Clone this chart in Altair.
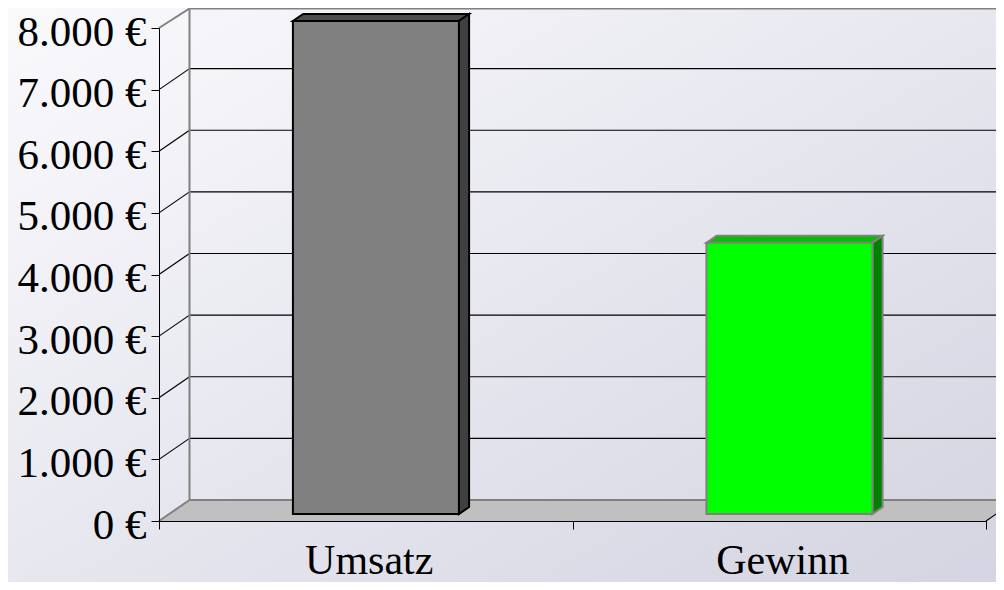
import altair as alt
import pandas as pd

categories = ["Umsatz", "Gewinn"]
values = [8000, 4400]
y_ticks = [0, 1000, 2000, 3000, 4000, 5000, 6000, 7000, 8000]
front_fill = ["#808080", "#00ff00"]
top_fill = ["#4d4d4d", "#00c000"]
side_fill = ["#404040", "#008000"]
edge = ["#000000", "#808080"]

W, H = 827, 493
UX = 2 / W          # data units per pixel, x
UY = 8000 / H       # data units per pixel, y
DX, DY = 30.5 * UX, 21 * UY   # full floor depth
BW = 166 * UX
TOP = 8000 + 19.5 * UY        # frame top sits just inside the page

bars, tops, sides = [], [], []
for i, (c, v) in enumerate(zip(categories, values)):
    x0 = i + 0.5 + DX / 3 - BW / 2
    x1 = x0 + BW
    b = DY / 3
    t = v + DY / 3
    bars.append(dict(cat=c, x=x0, x2=x1, y=t, y2=b, f=front_fill[i], s=edge[i]))
    d, e = DX / 3, DY / 3
    for xx, up, lo in [(x0, t, t), (x0 + d, t + e, t), (x1, t + e, t), (x1 + d, t + e, t + e)]:
        tops.append(dict(cat=c, x=xx, y=up, y2=lo, f=top_fill[i], s=edge[i]))
    for xx, up, lo in [(x1, t, b), (x1 + d, t + e, b + e)]:
        sides.append(dict(cat=c, x=xx, y=up, y2=lo, f=side_fill[i], s=edge[i]))

segs = []
for v in y_ticks[1:-1]:
    segs.append(dict(x=0, x2=DX, y=v, y2=v + DY, c="#000000", w=1.2))
    segs.append(dict(x=DX, x2=2 + DX, y=v + DY, y2=v + DY, c="#000000", w=1.2))
segs.append(dict(x=2, x2=2 + DX, y=0, y2=DY, c="#000000", w=1.2))
for s in [
    (0, DX, 0, DY), (0, DX, 8000, TOP), (DX, DX, DY, TOP),
    (DX, 2 + DX, DY, DY), (DX, 2 + DX, TOP, TOP),
]:
    segs.append(dict(x=s[0], x2=s[1], y=s[2], y2=s[3], c="#808080", w=2))

floor = pd.DataFrame([
    dict(x=0, y=0, y2=0), dict(x=DX, y=DY, y2=0),
    dict(x=2, y=DY, y2=0), dict(x=2 + DX, y=DY, y2=DY),
])

FONT = "Liberation Serif"
xq = alt.Scale(domain=[0, 2], nice=False, zero=False)
yq = alt.Scale(domain=[0, 8000], nice=False)
yaxis = alt.Axis(values=y_ticks, tickSize=8, tickColor="#000000", domainColor="#000000",
                 labelFont=FONT, labelFontSize=43, labelColor="#000000", labelPadding=5,
                 labelOffset=4, labelOverlap=False, labelFlush=False, labelBound=False,
                 labelExpr="replace(format(datum.value, ',d'), ',', '.') + ' €'",
                 zindex=1, grid=False)
X = alt.X("x:Q", scale=xq, axis=None)
Y = alt.Y("y:Q", scale=yq, axis=yaxis, title=None)

bg = alt.Chart(pd.DataFrame({"a": [0]})).mark_rect(
    fill=alt.Gradient(
        gradient="linear", x1=0, y1=0, x2=1, y2=1,
        stops=[alt.GradientStop(offset=0, color="#fafafd"),
               alt.GradientStop(offset=1, color="#d4d4e2")],
    )
).encode(x=alt.value(-151), x2=alt.value(837), y=alt.value(-20), y2=alt.value(554))

floor_l = alt.Chart(floor).mark_area(fill="#c0c0c0", orient="vertical").encode(x=X, y=Y, y2="y2:Q")

rules = alt.Chart(pd.DataFrame(segs)).mark_rule().encode(
    x=X, x2="x2:Q", y=Y, y2="y2:Q",
    color=alt.Color("c:N", scale=None),
    strokeWidth=alt.StrokeWidth("w:Q", scale=None),
)

def faces(rows):
    return alt.Chart(pd.DataFrame(rows)).mark_area(orient="vertical", strokeWidth=2).encode(
        x=X, y=Y, y2="y2:Q",
        fill=alt.Fill("f:N", scale=None),
        stroke=alt.Stroke("s:N", scale=None),
        detail="cat:N",
    )

front = alt.Chart(pd.DataFrame(bars)).mark_rect(strokeWidth=2).encode(
    x=X, x2="x2:Q", y=Y, y2="y2:Q",
    fill=alt.Fill("f:N", scale=None),
    stroke=alt.Stroke("s:N", scale=None),
)

axes = alt.Chart(pd.DataFrame({"cat": categories, "v": values})).mark_bar(opacity=0).encode(
    x=alt.X("cat:N", sort=categories, title=None,
            scale=alt.Scale(paddingInner=0, paddingOuter=0),
            axis=alt.Axis(tickBand="extent", labelAngle=0, tickSize=8, tickColor="#000000",
                          domainColor="#000000", labelFont=FONT, labelFontSize=42,
                          labelColor="#000000", labelPadding=11, labelOffset=3,
                          labelBaseline="top", zindex=1, grid=False)),
    y=alt.Y("v:Q", scale=yq, title=None, axis=yaxis),
)

chart = alt.layer(bg, floor_l, rules, faces(tops), faces(sides), front, axes).resolve_scale(
    x="independent"
).properties(
    width=W, height=H,
    padding={"left": 151, "top": 20, "right": 10, "bottom": 61},
    autosize=alt.AutoSizeParams(type="none"),
).configure_view(stroke=None)

chart.save("out.html", embed_options={"renderer": "svg", "actions": False})
